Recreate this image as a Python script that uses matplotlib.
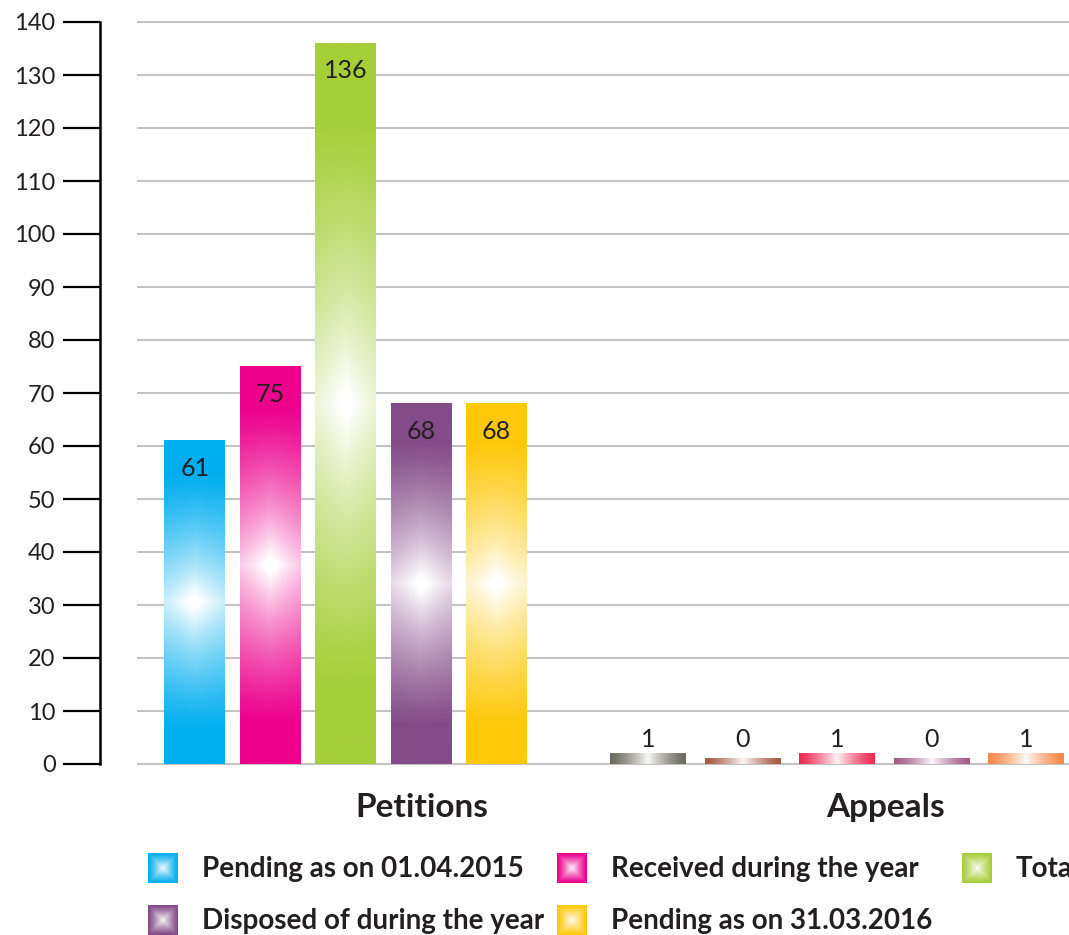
import numpy as np
import matplotlib.pyplot as plt
from matplotlib.colors import to_rgb

plt.rcParams['font.family'] = ['Lato', 'DejaVu Sans']

# données
categories = ['Petitions', 'Appeals']
series = ['Pending as on 01.04.2015', 'Received during the year', 'Total',
          'Disposed of during the year', 'Pending as on 31.03.2016']
petitions = [61, 75, 136, 68, 68]
appeals = [1, 0, 1, 0, 1]
petition_colors = ['#00aeef', '#ec008c', '#a6ce39', '#834b87', '#ffc80a']
appeal_colors = ['#6b6a5c', '#a55a43', '#ee2b55', '#a15a84', '#f7894a']
yticks = list(range(0, 141, 10))

TXT = '#231f20'


def grad_vertical(color, ny=300, nx=60):
    # blanc au milieu de la barre, couleur pleine en haut et en bas
    c = np.array(to_rgb(color))
    v = np.linspace(0, 1, ny)[:, None]
    u = np.linspace(-1, 1, nx)[None, :]
    sv = np.clip(1 - np.abs(v - 0.5) / 0.4, 0, 1) ** 1.2
    sh = 1 - 0.2 * np.abs(u)
    star = np.exp(-((v - 0.5) / 0.08) ** 2 - (u / 0.5) ** 2) * 0.06
    w = np.clip(sv * sh + star, 0, 1)[..., None]
    return c * (1 - w) + w


def grad_horizontal(color, nx=80):
    c = np.array(to_rgb(color))
    u = np.linspace(-1, 1, nx)[None, :]
    w = (0.95 * (1 - np.abs(u)) ** 1.3)[..., None]
    img = c * (1 - w) + w
    return np.repeat(img, 4, axis=0)


def grad_square(color, n=40):
    c = np.array(to_rgb(color))
    u = np.linspace(-1, 1, n)
    t = np.maximum(np.abs(u)[None, :], np.abs(u)[:, None])
    w = (0.95 * (1 - t) ** 1.2)[..., None]
    return c * (1 - w) + w


fig = plt.figure(figsize=(10.69, 9.35), dpi=100)
ax = fig.add_axes([100 / 1069, 171 / 935, 969 / 1069, 742 / 935])

# lignes de grille
for yv in yticks:
    ax.hlines(yv, -0.424, 1.48, color='#c3c3c3', lw=1.5, zorder=1, clip_on=False)

# Petitions
pw, ps = 0.124, 0.1536
for i, (val, col) in enumerate(zip(petitions, petition_colors)):
    cx = 0 + (i - 2) * ps
    ax.imshow(grad_vertical(col), extent=[cx - pw / 2, cx + pw / 2, 0, val],
              aspect='auto', origin='lower', zorder=3, interpolation='bilinear')
    ax.annotate(str(val), (cx, val), xytext=(0, -20), textcoords='offset points',
                ha='center', va='center', fontsize=18, color=TXT, zorder=5)

# Appeals (petite hauteur minimale pour rendre visibles les zéros)
aw, as_ = 0.1546, 0.1923
for i, (val, col) in enumerate(zip(appeals, appeal_colors)):
    cx = 1 + (i - 2) * as_
    h = val + 1
    ax.imshow(grad_horizontal(col), extent=[cx - aw / 2, cx + aw / 2, 0, h],
              aspect='auto', origin='lower', zorder=3, interpolation='bilinear')
    ax.annotate(str(val), (cx, 2), xytext=(0, 10), textcoords='offset points',
                ha='center', va='center', fontsize=18, color=TXT, zorder=5)

ax.set_xlim(-0.5, 1.472)
ax.set_ylim(0, 140)

for s in ['top', 'right', 'bottom']:
    ax.spines[s].set_visible(False)
ax.spines['left'].set_linewidth(1.8)
ax.spines['left'].set_bounds(0, 140)

ax.set_yticks(yticks)
ax.tick_params(axis='y', length=27, width=1.6, pad=5, labelsize=17, labelcolor=TXT)
ax.set_xticks([0.156, 1.099])
ax.set_xticklabels(categories, fontsize=24, fontweight='bold', color=TXT)
ax.tick_params(axis='x', length=0, pad=21)

# légende dessinée à la main
lax = fig.add_axes([0, 0, 1, 1])
lax.set_xlim(0, 1069)
lax.set_ylim(935, 0)
lax.axis('off')
legend_pos = [(148, 868), (557, 868), (962, 868), (148, 920), (557, 920)]
for (lx, ly), name, col in zip(legend_pos, series, petition_colors):
    lax.imshow(grad_square(col), extent=[lx, lx + 30, ly + 15, ly - 15],
               interpolation='bilinear', zorder=3)
    lax.text(lx + 54, ly + 1, name, ha='left', va='center', fontsize=20,
             fontweight='bold', color=TXT)
lax.set_xlim(0, 1069)
lax.set_ylim(935, 0)

fig.savefig('out.png', dpi=100)
